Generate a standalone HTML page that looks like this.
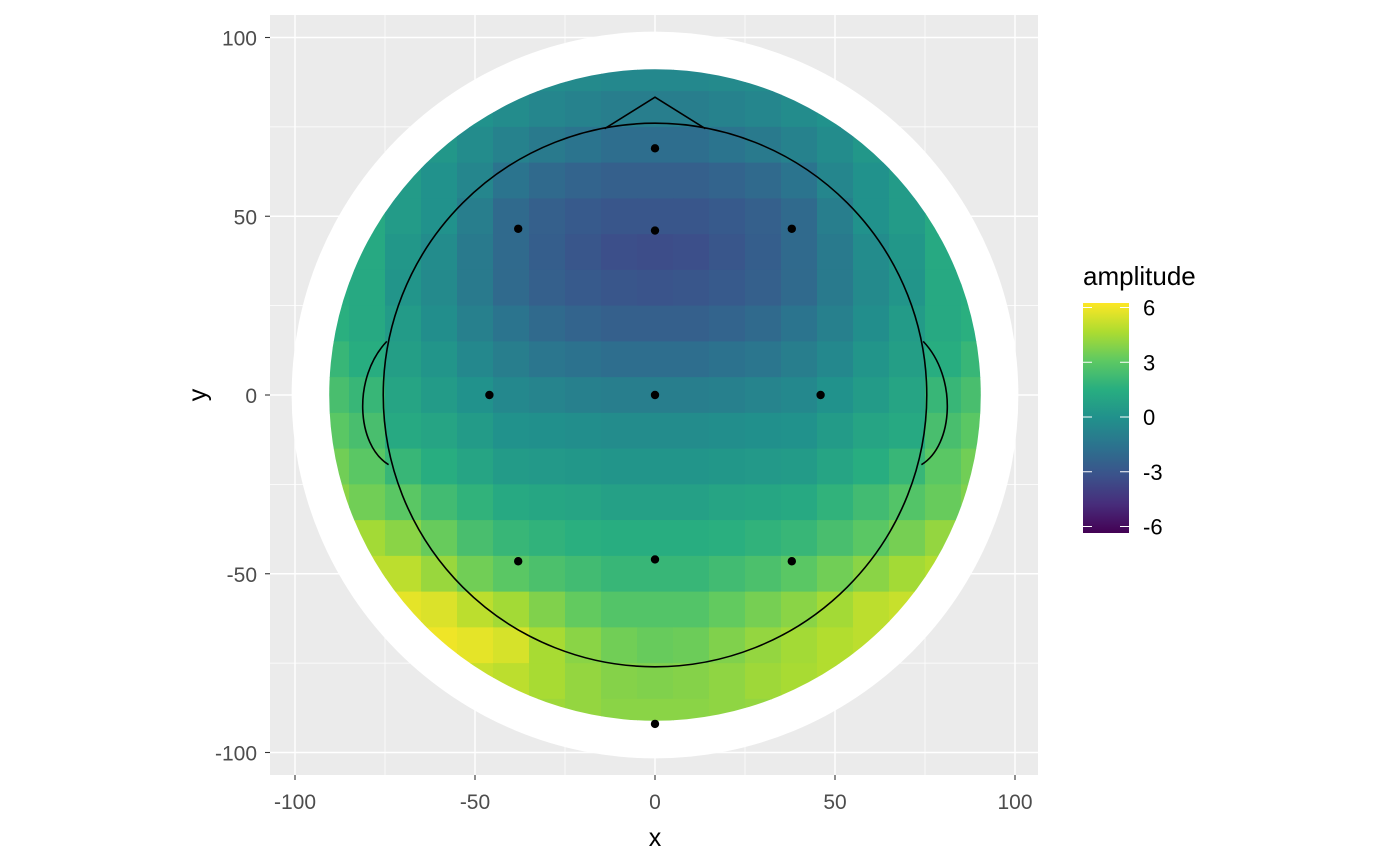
<!DOCTYPE html>
<html><head><meta charset="utf-8"><style>
html,body{margin:0;padding:0;background:#fff}
svg{display:block;font-family:"Liberation Sans",Arial,sans-serif}
</style></head><body>
<svg id="chart" width="1400" height="865" viewBox="0 0 1400 865" xmlns="http://www.w3.org/2000/svg">
<defs>
<clipPath id="disc"><circle cx="655" cy="395" r="326"/></clipPath>
<linearGradient id="cbar" x1="0" y1="1" x2="0" y2="0">
<stop offset="0" stop-color="#440154"/><stop offset="0.125" stop-color="#472d7b"/><stop offset="0.25" stop-color="#3b528b"/><stop offset="0.375" stop-color="#2c728e"/><stop offset="0.5" stop-color="#21918c"/><stop offset="0.625" stop-color="#28ae80"/><stop offset="0.75" stop-color="#5ec962"/><stop offset="0.875" stop-color="#addc30"/><stop offset="1" stop-color="#fde725"/>
</linearGradient>
</defs>
<rect x="270" y="15" width="768" height="760" fill="#ebebeb"/>
<g id="grid"></g>
<circle id="ring" fill="#fff"/>
<g id="tiles" clip-path="url(#disc)"></g>
<g id="head" fill="none" stroke="#000" stroke-width="1.6"></g>
<g id="elec"></g>
<g id="axes" font-size="21" fill="#4d4d4d"></g>
<text x="655" y="846" font-size="25" text-anchor="middle" fill="#000">x</text>
<text x="200" y="395" font-size="25" text-anchor="middle" fill="#000" transform="rotate(-90 200 395)" dy="6">y</text>
<text x="1083" y="285" font-size="26" fill="#000">amplitude</text>
<rect x="1083" y="303" width="46" height="230" fill="url(#cbar)"/>
<g id="legend" font-size="22" fill="#000"></g>
</svg>
<script>
const xTicks=[-100,-50,0,50,100];
const yTicks=[-100,-50,0,50,100];
const minorTicks=[-75,-25,25,75];
const legendTicks=[-6,-3,0,3,6];
const gridX=[-90,-80,-70,-60,-50,-40,-30,-20,-10,0,10,20,30,40,50,60,70,80,90];
const gridY=[90,80,70,60,50,40,30,20,10,0,-10,-20,-30,-40,-50,-60,-70,-80,-90];
const amp=[
[0,0,0,0,-0.1,-0.2,-0.3,-0.4,-0.5,-0.5,-0.5,-0.4,-0.3,-0.2,-0.1,0,0,0,0],
[0.6,0.6,0.5,0.3,0,-0.3,-0.6,-0.8,-1,-1,-1,-0.8,-0.6,-0.3,0,0.3,0.5,0.6,0.6],
[0.8,0.7,0.5,0.3,-0.3,-0.8,-1.2,-1.5,-1.8,-1.8,-1.8,-1.5,-1.2,-0.8,-0.3,0.3,0.5,0.7,0.8],
[1.2,1,0.5,0,-0.6,-1.5,-2,-2.3,-2.5,-2.5,-2.5,-2.3,-2,-1.5,-0.6,0,0.5,1,1.2],
[1.5,1.3,0.5,0,-1,-2,-2.5,-2.8,-3,-3,-3,-2.8,-2.5,-2,-1,0,0.5,1.3,1.5],
[1.5,1.3,0.3,-0.3,-1.2,-2,-2.6,-3,-3.3,-3.4,-3.3,-3,-2.6,-2,-1.2,-0.3,0.3,1.3,1.5],
[1.5,1.3,0.2,-0.4,-1.2,-2,-2.5,-2.8,-3,-3.1,-3,-2.8,-2.5,-2,-1.2,-0.4,0.2,1.3,1.5],
[1.6,1.3,0.5,-0.2,-0.9,-1.5,-2,-2.3,-2.5,-2.5,-2.5,-2.3,-2,-1.5,-0.9,-0.2,0.5,1.3,1.6],
[2,1.5,0.7,0.2,-0.5,-1,-1.4,-1.6,-1.8,-1.8,-1.8,-1.6,-1.4,-1,-0.5,0.2,0.7,1.5,2],
[2.5,2,1,0.5,0,-0.5,-0.7,-0.9,-1,-1,-1,-0.9,-0.7,-0.5,0,0.5,1,2,2.5],
[3,2.5,1.3,1,0.5,0,-0.1,-0.2,-0.3,-0.3,-0.3,-0.2,-0.1,0,0.5,1,1.3,2.5,3],
[3.5,3,2,1.5,1,0.5,0.4,0.3,0.2,0.2,0.2,0.3,0.4,0.5,1,1.5,2,3,3.5],
[4,3.5,3,2.3,1.8,1.3,1.1,1,0.8,0.8,0.8,1,1.1,1.3,1.8,2.3,2.8,3.3,3.8],
[4.5,4.5,4,3.3,2.5,2,1.8,1.6,1.5,1.5,1.5,1.6,1.8,2,2.5,3,3.6,4.2,4.5],
[5,5,5,4.3,3.5,3,2.6,2.3,2,2,2,2.3,2.6,3,3.5,4,4.5,4.8,5],
[5.8,5.8,5.8,5.6,5,4.5,3.8,3.2,2.8,2.8,2.8,3.2,3.6,4,4.5,5,5.2,5.2,5.2],
[6,6,6,6,5.8,5.5,4.6,4,3.5,3.3,3.4,3.8,4.2,4.5,4.8,5,5,5,5],
[5.5,5.5,5.5,5.5,5.2,5,4.6,4.2,3.9,3.8,3.9,4.1,4.4,4.6,4.8,4.8,4.8,4.8,4.8],
[5,5,5,5,4.8,4.6,4.4,4.2,4,4,4,4.1,4.2,4.4,4.5,4.5,4.5,4.5,4.5]
];
const elecX=[0,-38,0,38,-46,0,46,-38,0,38,0];
const elecY=[69,46.5,46,46.5,0,0,0,-46.5,-46,-46.5,-92];
const NS="http://www.w3.org/2000/svg";
const sx=v=>655+3.6*v, sy=v=>395-3.575*v;
const ly=v=>417-18.25*v;
const vir=["#440154","#472d7b","#3b528b","#2c728e","#21918c","#28ae80","#5ec962","#addc30","#fde725"];
function hex(h){return [1,3,5].map(i=>parseInt(h.substr(i,2),16));}
function col(v){let t=(v+6.33)/(6.27+6.33);t=Math.max(0,Math.min(1,t))*8;const i=Math.min(7,Math.floor(t)),f=t-i;const a=hex(vir[i]),b=hex(vir[i+1]);return "rgb("+a.map((c,k)=>Math.round(c+(b[k]-c)*f)).join(",")+")";}
function mk(tag,attrs,parent){const e=document.createElementNS(NS,tag);for(const k in attrs)e.setAttribute(k,attrs[k]);parent.appendChild(e);return e;}
const grid=document.getElementById('grid');
minorTicks.forEach(v=>{
 let l=mk('line',{x1:sx(v),x2:sx(v),y1:15,y2:775,stroke:'#fff','stroke-width':0.7},grid);
 
 
 l=mk('line',{x1:270,x2:1038,y1:sy(v),y2:sy(v),stroke:'#fff','stroke-width':0.7},grid);
 
 
});
const axes=document.getElementById('axes');
xTicks.forEach(v=>{
 let l=mk('line',{x1:sx(v),x2:sx(v),y1:15,y2:775,stroke:'#fff','stroke-width':1.4},grid);
 
 
 let t=mk('line',{x1:sx(v),x2:sx(v),y1:775,y2:780,stroke:'#333','stroke-width':1.1},axes);
 
 
 let tx=mk('text',{x:sx(v),y:809,'text-anchor':'middle'},axes);tx.textContent=v;
 
 
});
yTicks.forEach(v=>{
 let l=mk('line',{x1:270,x2:1038,y1:sy(v),y2:sy(v),stroke:'#fff','stroke-width':1.4},grid);
 
 
 let t=mk('line',{x1:265,x2:270,y1:sy(v),y2:sy(v),stroke:'#333','stroke-width':1.1},axes);
 
 
 let tx=mk('text',{x:257,y:sy(v)+8,'text-anchor':'end'},axes);tx.textContent=v;
 
 
});
const ring=document.getElementById('ring');
ring.setAttribute('cx',sx(0));ring.setAttribute('cy',sy(0));ring.setAttribute('r',3.58*101.5);
document.querySelector('#disc circle').setAttribute('r',3.58*91);
const tiles=document.getElementById('tiles');
const step=10;
gridY.forEach((gy,r)=>gridX.forEach((gx,c)=>{
 const e=mk('rect',{x:sx(gx-step/2),y:sy(gy+step/2),width:3.6*step+0.6,height:3.575*step+0.6,fill:col(amp[r][c])},tiles);
 
 
}));
const head=document.getElementById('head');
let hc=mk('circle',{cx:sx(0),cy:sy(0),r:3.59*75.7},head);


let nose=mk('polyline',{points:`${sx(-14)},${sy(74.5)} ${sx(0)},${sy(83.3)} ${sx(14)},${sy(74.5)}`},head);


let le=mk('path',{d:`M${sx(-74.5)},${sy(15)} C${sx(-84)},${sy(5)} ${sx(-83)},${sy(-14)} ${sx(-74)},${sy(-19.5)}`},head);


let re=mk('path',{d:`M${sx(74.5)},${sy(15)} C${sx(84)},${sy(5)} ${sx(83)},${sy(-14)} ${sx(74)},${sy(-19.5)}`},head);


const el=document.getElementById('elec');
elecX.forEach((x,i)=>{
 const d=mk('circle',{cx:sx(x),cy:sy(elecY[i]),r:4.2,fill:'#000'},el);
 
 
});
const lg=document.getElementById('legend');
legendTicks.forEach(v=>{
 let a=mk('line',{x1:1083,x2:1092,y1:ly(v),y2:ly(v),stroke:'#fff','stroke-width':1},lg);
 
 
 let b=mk('line',{x1:1120,x2:1129,y1:ly(v),y2:ly(v),stroke:'#fff','stroke-width':1},lg);
 
 
 let t=mk('text',{x:1143,y:ly(v)+8},lg);t.textContent=v;
 
 
});
</script>
</body></html>
